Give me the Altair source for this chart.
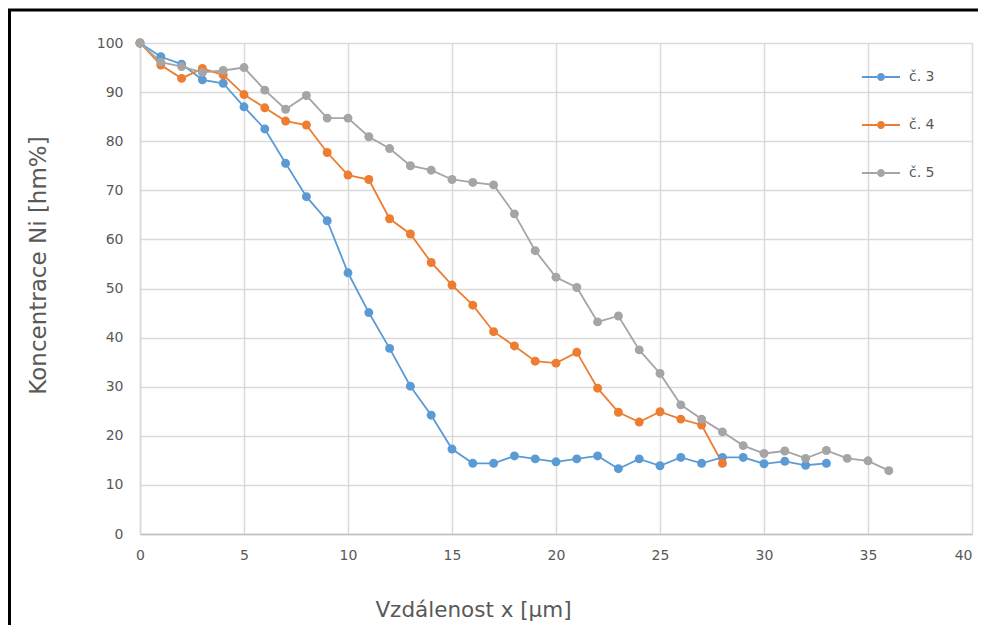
import altair as alt
import pandas as pd

series_names = ["č. 3", "č. 4", "č. 5"]
colors = ["#5B9BD5", "#ED7D31", "#A5A5A5"]

c3 = [100, 97.2, 95.7, 92.5, 91.8, 87, 82.5, 75.5, 68.7, 63.8, 53.2, 45.1, 37.8, 30.1, 24.2,
      17.3, 14.4, 14.4, 15.9, 15.3, 14.7, 15.3, 15.9, 13.3, 15.3, 13.9, 15.6, 14.4, 15.6, 15.6,
      14.3, 14.8, 14.0, 14.4]
c4 = [100, 95.5, 92.8, 94.8, 93.5, 89.5, 86.8, 84.1, 83.3, 77.7, 73.1, 72.2, 64.2, 61.1, 55.3,
      50.7, 46.6, 41.2, 38.3, 35.2, 34.8, 37.0, 29.7, 24.8, 22.8, 24.9, 23.4, 22.2, 14.4]
c5 = [100, 96.1, 95.2, 94.0, 94.4, 95.0, 90.4, 86.5, 89.3, 84.7, 84.7, 80.9, 78.5, 75.0, 74.1,
      72.2, 71.6, 71.1, 65.2, 57.7, 52.3, 50.2, 43.2, 44.4, 37.5, 32.7, 26.3, 23.4, 20.8, 18.0,
      16.4, 16.9, 15.4, 17.0, 15.4, 14.9, 12.9]

x_ticks = [0, 5, 10, 15, 20, 25, 30, 35, 40]
y_ticks = [0, 10, 20, 30, 40, 50, 60, 70, 80, 90, 100]

rows = []
for name, vals in zip(series_names, [c3, c4, c5]):
    for i, v in enumerate(vals):
        rows.append({"x": i, "y": v, "s": name})
df = pd.DataFrame(rows)

FONT = "DejaVu Sans"
TXT = "#595959"

xenc = alt.X("x:Q", scale=alt.Scale(domain=[0, 40], nice=False),
             axis=alt.Axis(values=x_ticks, title="Vzdálenost x [µm]", grid=True,
                           gridColor="#d9d9d9", gridWidth=1.5, ticks=False,
                           domainColor="#bfbfbf", domainWidth=1.5, labelFlush=False,
                           labelAlign={"expr": "datum.value >= 40 ? 'right' : 'center'"},
                           labelPadding=14, labelFontSize=14, labelColor=TXT, labelFont=FONT,
                           titleFontSize=21.5, titleFontWeight="normal", titleColor=TXT, titleFont=FONT,
                           titleX=333, titleY=76, titleBaseline="middle", titleAlign="center"))
yenc = alt.Y("y:Q", scale=alt.Scale(domain=[0, 100], nice=False),
             axis=alt.Axis(values=y_ticks, title="Koncentrace Ni [hm%]", grid=True,
                           gridColor="#d9d9d9", gridWidth=1.5, ticks=False,
                           domainColor="#d9d9d9", domainWidth=1.5, labelFlush=False,
                           labelPadding=17, labelFontSize=14, labelColor=TXT, labelFont=FONT,
                           titleFontSize=23, titleFontWeight="normal", titleColor=TXT, titleFont=FONT,
                           titleX=-102, titleY=222, titleAngle=-90, titleBaseline="middle",
                           titleAlign="center"))

symbol_path = ("M-1,-0.05L-0.2,-0.05L-0.2,0.05L-1,0.05Z "
               "M0.2,-0.05L1,-0.05L1,0.05L0.2,0.05Z "
               "M-0.21,0A0.21,0.21 0 1,0 0.21,0A0.21,0.21 0 1,0 -0.21,0Z")

legend = alt.Legend(title=None, orient="none", legendX=722, legendY=15,
                    symbolType=symbol_path, symbolSize=1444,
                    symbolStrokeWidth=0, labelFontSize=14, labelColor=TXT,
                    labelFont=FONT, labelOffset=9, rowPadding=22, padding=0)
cenc = alt.Color("s:N", scale=alt.Scale(domain=series_names, range=colors), legend=legend)

base = alt.Chart(df)
lines = base.mark_line(strokeWidth=1.8).encode(x=xenc, y=yenc, color=cenc, detail="s:N")
points = base.mark_point(filled=True, size=80, opacity=1).encode(
    x=xenc, y=yenc, color=cenc, order=alt.Order("s:N"))

frame = alt.Chart(alt.Data(values=[{"a": 1}])).mark_rect(
    fill="transparent", stroke="black", strokeWidth=3
).encode(x=alt.value(-130.5), x2=alt.value(1200), y=alt.value(-33), y2=alt.value(900))

chart = alt.layer(lines, points, frame).properties(
    width=832, height=491,
    autosize=alt.AutoSizeParams(type="none"),
    padding={"left": 132, "top": 35, "right": 6, "bottom": 91},
    background="white",
).configure_view(stroke=None)

chart.save("out.html", embed_options={"renderer": "svg", "actions": False})
